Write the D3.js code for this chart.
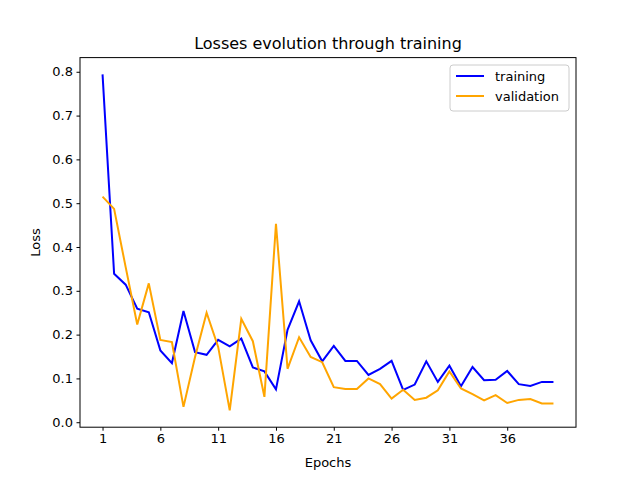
<!DOCTYPE html>
<html>
<head>
<meta charset="utf-8">
<script src="https://cdn.jsdelivr.net/npm/d3@7"></script>
<style>
  body { margin: 0; background: #fff; }
  text { font-family: "DejaVu Sans", sans-serif; }
</style>
</head>
<body>
<svg id="canvas"></svg>
<script>
// Data
const epochs = d3.range(1, 41);
const trainingLoss = [0.794, 0.339, 0.314, 0.259, 0.251, 0.164, 0.135, 0.254, 0.160, 0.154,
                      0.188, 0.173, 0.191, 0.125, 0.116, 0.075, 0.211, 0.276, 0.187, 0.139,
                      0.174, 0.140, 0.140, 0.108, 0.122, 0.140, 0.074, 0.086, 0.139, 0.092,
                      0.129, 0.082, 0.126, 0.096, 0.097, 0.117, 0.087, 0.083, 0.092, 0.092];
const validationLoss = [0.515, 0.487, 0.354, 0.223, 0.317, 0.188, 0.183, 0.035, 0.149, 0.250,
                        0.172, 0.027, 0.236, 0.185, 0.058, 0.453, 0.122, 0.194, 0.149, 0.137,
                        0.080, 0.076, 0.076, 0.100, 0.087, 0.054, 0.074, 0.051, 0.056, 0.073,
                        0.116, 0.077, 0.064, 0.050, 0.062, 0.044, 0.051, 0.053, 0.043, 0.043];
const xTicks = [1, 6, 11, 16, 21, 26, 31, 36];
const yTicks = [0.0, 0.1, 0.2, 0.3, 0.4, 0.5, 0.6, 0.7, 0.8];

const width = 640, height = 480;
const axLeft = 80, axRight = 576, axTop = 57.6, axBottom = 427.2;

const svg = d3.select("#canvas").attr("width", width).attr("height", height);

// matplotlib-like 5% margins
const xPad = (40 - 1) * 0.05;
const x = d3.scaleLinear().domain([1 - xPad, 40 + xPad]).range([axLeft, axRight]);
const allVals = trainingLoss.concat(validationLoss);
const yMin = d3.min(allVals), yMax = d3.max(allVals);
const yPad = (yMax - yMin) * 0.05;
const y = d3.scaleLinear().domain([yMin - yPad, yMax + yPad]).range([axBottom, axTop]);

// Axes
const gx = svg.append("g").attr("transform", `translate(0,${axBottom})`)
  .call(d3.axisBottom(x).tickValues(xTicks).tickSize(3.5).tickPadding(3.5).tickFormat(d3.format("d")));
const gy = svg.append("g").attr("transform", `translate(${axLeft},0)`)
  .call(d3.axisLeft(y).tickValues(yTicks).tickSize(3.5).tickPadding(3.5).tickFormat(d3.format(".1f")));
[gx, gy].forEach(g => {
  g.select(".domain").remove();
  g.selectAll("text").style("font-size", "13px").attr("fill", "#000");
  g.selectAll("line").attr("stroke", "#000");
});

// Frame
svg.append("rect").attr("x", axLeft).attr("y", axTop)
  .attr("width", axRight - axLeft).attr("height", axBottom - axTop)
  .attr("fill", "none").attr("stroke", "#000").attr("stroke-width", 1);

// Lines
const line = values => d3.line().x((d, i) => x(epochs[i])).y(d => y(d))(values);
svg.append("path").attr("d", line(trainingLoss)).attr("fill", "none").attr("stroke", "blue").attr("stroke-width", 2);
svg.append("path").attr("d", line(validationLoss)).attr("fill", "none").attr("stroke", "orange").attr("stroke-width", 2);

// Labels
svg.append("text").attr("x", (axLeft + axRight) / 2).attr("y", 49).attr("text-anchor", "middle")
  .style("font-size", "16px").text("Losses evolution through training");
svg.append("text").attr("x", (axLeft + axRight) / 2).attr("y", 467).attr("text-anchor", "middle")
  .style("font-size", "13px").text("Epochs");
svg.append("text").attr("transform", `translate(40,${(axTop + axBottom) / 2}) rotate(-90)`)
  .attr("text-anchor", "middle").style("font-size", "13px").text("Loss");

// Legend
const lg = svg.append("g").attr("transform", "translate(450,65)");
lg.append("rect").attr("width", 119).attr("height", 46).attr("rx", 3)
  .attr("fill", "#fff").attr("fill-opacity", 0.8).attr("stroke", "#ccc");
[["training", "blue"], ["validation", "orange"]].forEach(([name, color], i) => {
  const yy = 11 + i * 20;
  lg.append("line").attr("x1", 6).attr("x2", 34).attr("y1", yy).attr("y2", yy)
    .attr("stroke", color).attr("stroke-width", 2);
  lg.append("text").attr("x", 45).attr("y", yy + 4.5).style("font-size", "13px").text(name);
});
</script>
</body>
</html>
